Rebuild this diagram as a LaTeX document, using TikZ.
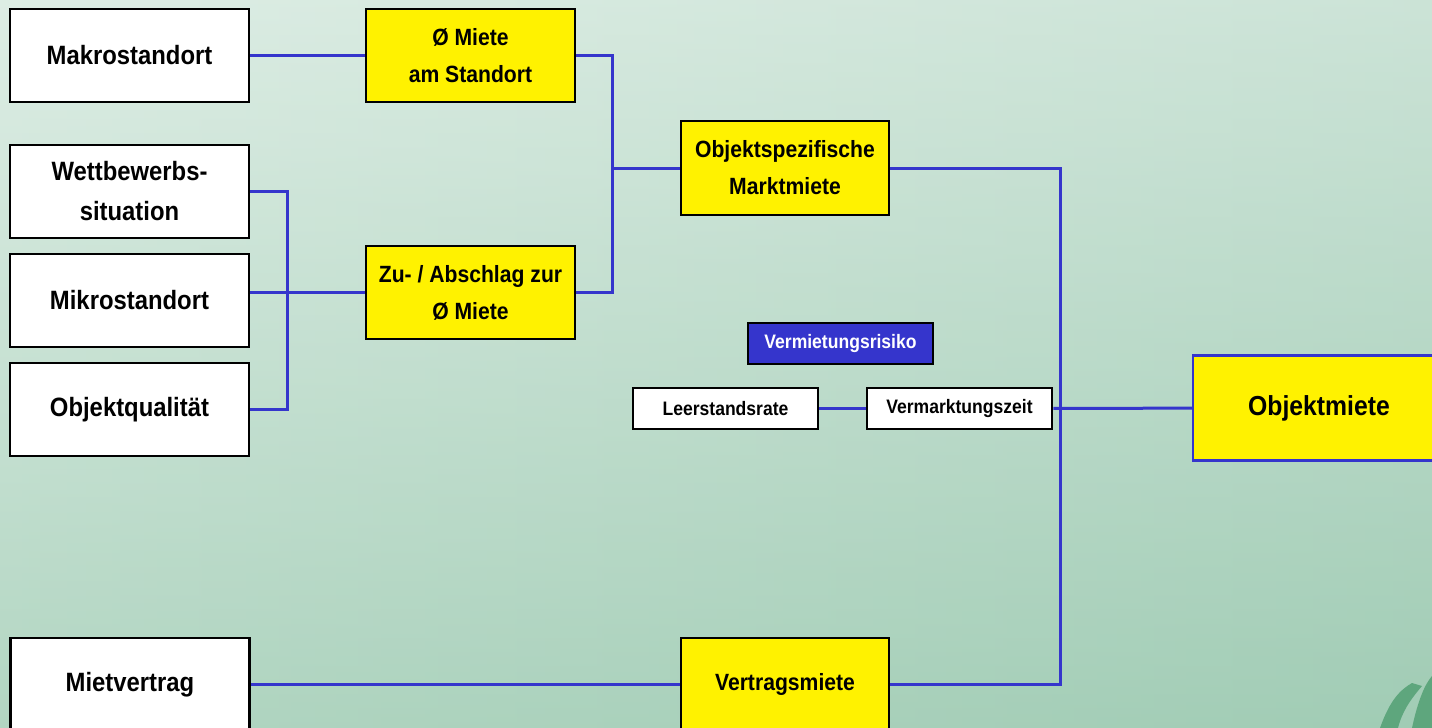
\documentclass[tikz,border=0pt]{standalone}
\usepackage{fontspec}
\setmainfont{Liberation Sans}[FakeStretch=0.9]
\usetikzlibrary{positioning}
\definecolor{linkblue}{HTML}{3535CC}
\definecolor{bgpale}{HTML}{E4F0E9}
\definecolor{bgleft}{HTML}{C2DFCF}
\definecolor{bgright}{HTML}{A2CDB6}
\definecolor{bglow}{HTML}{9FCBB3}
\definecolor{leafgreen}{HTML}{5EA67D}

\begin{document}
\begin{tikzpicture}[x=1pt, y=-1pt,
  factor/.style={draw=black, line width=2.5pt, fill=white, minimum width=239pt, minimum height=93pt,
    inner sep=0pt, align=center, font=\bfseries\fontsize{26.5}{40}\selectfont},
  rent/.style={factor, fill=yellow, minimum width=209pt, font=\bfseries\fontsize{23.5}{37}\selectfont},
  small/.style={draw=black, line width=2.5pt, fill=white, minimum width=185pt, minimum height=41pt,
    inner sep=0pt, font=\bfseries\fontsize{19.5}{20}\selectfont},
  link/.style={draw=linkblue, line width=3pt}]
\useasboundingbox (0,0) rectangle (1432,728);
\clip (0,0) rectangle (1432,728);
% background
\shade[left color=bgleft, middle color=bgpale, right color=bgright] (0,0) rectangle (1432,728);
\shade[top color=white, bottom color=bglow, opacity=0.45] (0,0) rectangle (1432,728);
\fill[leafgreen] (1380,728) .. controls (1390,700) and (1400,690) .. (1412,683) -- (1422,686) .. controls (1410,700) and (1402,712) .. (1398,728) -- cycle;
\fill[leafgreen] (1412,728) .. controls (1418,700) and (1425,684) .. (1432,676) -- (1432,728) -- cycle;

% input factors
\node[factor] (makro) at (129.5,55.5) {Makrostandort};
\node[factor] (wett) at (129.5,191.5) {Wettbewerbs-\\situation};
\node[factor] (mikro) at (129.5,300.5) {Mikrostandort};
\node[factor] (objq) at (129.5,409.5) {Objektqualität};
\node[factor] (mietv) at (130,684.5) {Mietvertrag};

% rents
\node[rent] (miete) at (470.5,55.5) {Ø Miete\\am Standort};
\node[rent] (zu) at (470.5,292.5) {Zu- / Abschlag zur\\Ø Miete};
\node[rent, minimum width=208pt, minimum height=94pt] (markt) at (785,168) {Objektspezifische\\Marktmiete};
\node[rent, minimum width=208pt] (vertr) at (785,684.5) {Vertragsmiete};
\node[rent, draw=linkblue, minimum width=252pt, minimum height=105pt, font=\bfseries\fontsize{27.5}{30}\selectfont] (objm) at (1319,408) {Objektmiete};

% risk
\node[small, fill=linkblue, text=white] (risiko) at (840.5,343.5) {Vermietungsrisiko};
\node[small] (leer) at (725.5,408.5) {Leerstandsrate};
\node[small] (verm) at (959.5,408.5) {Vermarktungszeit};

\coordinate (jm) at (612,168);
\coordinate (jw) at (287,300);
\coordinate (jo) at (1060,408);

% connectors
\draw[link] (makro) -- (miete);
\draw[link] (miete.east) -| (jm) |- (zu.east);
\draw[link] (jm) -- (markt.west);
\draw[link] (wett.east) -| (jw) |- (objq.east);
\draw[link] (zu.west) -- (zu.west -| mikro.east);
\draw[link] (markt.east) -| (jo) |- (vertr.east);
\draw[link] (leer) -- (verm);
\draw[link] (verm) -- (objm);
\draw[link] (mietv) -- (vertr);
\end{tikzpicture}
\end{document}
